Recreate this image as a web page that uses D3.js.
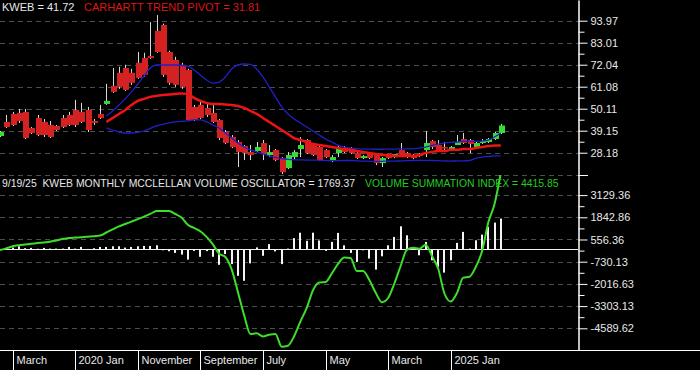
<!DOCTYPE html>
<html>
<head>
<meta charset="utf-8">
<script src="https://cdn.jsdelivr.net/npm/d3@7"></script>
<style>
  body { margin: 0; background: #000; }
  text { font-family: Arial, "Liberation Sans", sans-serif; }
</style>
</head>
<body>
<div id="viz"></div>
<script>
const colorUp = '#33dd33';
const colorDown = '#d42222';
const colorPivot = '#ee1414';
const colorBand = '#2020c8';
const colorSum = '#3ddd2a';
const colorGrid = '#4d4d4d';
const colorText = '#e8e8e8';

// monthly bars, Jan 2019 .. Sep 2025 (index 0..80)
const opens = [36.5,43.5,47.5,48,48.5,40.5,45.5,43.5,42,41.5,
  45.5,47,49.5,48.5,49.5,44,47.5,52.5,61.5,68,
  70.4,68,73,75.4,76.4,88.9,91.8,78.4,74.4,72,
  69.4,51,52,50.5,48,44.5,38.5,36,33.5,31.5,
  28.5,29,33,27,29.5,25.5,20.5,26,30,34.5,
  32,31,29.5,24,28,30.5,30.5,28,25.5,28,
  27,23,27,26,29.5,28,27,27.5,29.5,34,
  32,31,29.6,32,35,34.5,31,33,33.5,35,
  38]
const highs = [39,47,48.5,50,50,41,47,45,44,42,
  47,48.5,54.5,53,51,45,52,62.5,70.4,71,
  72,70,78.4,78,93.3,96.8,92.5,79,76,73,
  70,52,54.5,53,53,45,39.5,37,34.5,32,
  32,33.5,34.5,32,30,26,28.5,29.5,36,35,
  33,31.5,30,27,32,31.5,31,28.5,27,28.5,
  27.5,26,27.5,27.5,33,28.5,27.5,28,39,34.5,
  34.5,33.5,31.5,37,38,35,34,35,35.5,38.5,
  42.5]
const lows = [36,40.5,41.5,43,35,37.5,36.5,36,35.5,39,
  40.5,41.5,41,43,38.5,42,45,52,58,60,
  59,62,65,66,75,78,66,62,61,60,
  44,44,45,46,43,34.5,32.5,30.5,21,24.5,
  24.5,28.5,24.5,26,24,17.5,20,24.5,26,27.5,
  26.5,24,25.5,23.5,26,28,27.5,25,25,25,
  22,21,25,25.5,26,25.5,25,26,26,30,
  29,29.5,29,32,32.5,28,30.5,32.5,33,34.5,
  37.5]
const closes = [38.5,41,42,44,35.5,38,37,37,36,39.5,
  41,42,42,43.5,39.5,43,45.5,54,58.5,61,
  59.5,63,65.5,67,75.4,78.4,67,63,62,61,
  44.5,44.5,45.5,47,43.5,35.5,33,31,28.5,28,
  27,31,27.5,28.5,24.5,18.5,27,28.5,32,28,
  27,24.5,26,26,30.5,28.5,28,25.5,26.5,25.5,
  23,25.5,25.5,27.5,27,26,25.5,26.5,33,31,
  29.5,30.5,31,33.5,33,32.5,33,34,35,38,
  41.72]

// trend pivot and bands start at index 17
const bandStart = 17
const pivot = [43.5,45.5,47.5,49.5,52,54,55,56,56.5,57,
  57.2,57.5,57.7,57.5,55.5,54,53,52.5,52.5,52.2,
  52,51.5,50.5,49,47.5,45.5,43.5,41.5,39.5,37.5,
  35.5,34.5,33.5,32.5,32,31.5,31,30.5,30,29.6,
  29,28.6,28,27.6,27,27,26.6,26.6,26.6,26.6,
  27,28,28.6,29,29,29.6,29.6,30,30,30.5,
  31,31.5,31.8,31.81]
const upperBand = [46.5,49,52,55,58.5,62.4,66.4,70.4,71.9,71.9,
  71.9,71.9,71.7,71.4,69.4,66.9,64.4,62.9,63.4,65.9,
  69.9,71.9,72.4,72.2,69.9,66,61,56,51,47.5,
  45,43,41,39,37,35,33.5,32,31,30.5,
  30.2,30,30,29.9,29.9,30,30,30.1,30.1,30.2,
  30.5,31,31.8,32.5,33,33.3,33.5,33.8,33.8,33.8,
  34,34.5,36,38]
const lowerBand = [40.5,39.5,38.5,38,38,38.3,39,40.3,41.5,42.3,
  43,43.5,43.8,44,44.5,44.5,43.5,42,40.5,38,
  35.5,33,31,29.6,28.6,27.6,26.6,25.8,25.3,24.9,
  24.7,24.6,24.5,24.5,24.4,24.3,24.2,24.2,24.3,24.3,
  24.1,24,23.9,23.8,23.9,24,24,24.1,24.2,24.3,
  24.4,24.4,24.3,24.2,24.1,24,24.1,24.1,24.3,25.3,
  26,26.3,26.6,26.6]

// McClellan volume oscillator (bars) and summation index (line)
const oscillator = [null,70,87,162,50,70,20,70,30,30,
  30,125,30,125,10,50,125,125,162,162,
  87,125,162,183,183,222,-68,-126,-222,-319,
  -609,-106,-446,-116,-446,-910,-290,-869,-1547,-1837,
  -829,98,-388,290,-133,-869,30,637,950,480,
  950,500,-104,417,939,220,-220,-742,-70,-550,
  -1188,-417,220,707,1321,800,60,-359,417,-649,
  -1031,-1362,-649,359,997,30,510,840,1286,1536,
  1769.37]
const summation = [-52,40,162,226,267,307,348,388,429,504,
  580,637,666,690,719,748,782,962,1147,1315,
  1455,1594,1733,1883,2040,2202,2208,2208,2034,1825,
  1408,1228,1037,707,272,-267,-458,-1171,-2480,-3836,
  -4920,-4879,-5065,-4960,-4920,-5656,-5598,-5036,-4184,-3413,
  -2388,-1941,-1907,-1414,-863,-493,-516,-1269,-1269,-1791,
  -2515,-3077,-2834,-1993,-979,-41,81,23,249,-400,
  -1142,-2573,-3037,-2544,-1652,-1599,-1037,-127,1541,2613,
  4415.85]

const priceTicks = [93.97, 83.01, 72.04, 61.08, 50.11, 39.15, 28.18]
const oscTicks = [3129.36, 1842.86, 556.36, -730.13, -2016.63, -3303.13, -4589.62]
const xTickIndex = [2, 12, 22, 32, 42, 52, 62, 72]
const xTickLabels = ['March', '2020 Jan', 'November', 'September', 'July', 'May', 'March', '2025 Jan']
const dateLabel = '9/19/25'

function createViz(){

  const dimensions = {
    width: 700,
    height: 370,
    plotRight: 578,
    split: 175,
    bottom: 350,
  }

  const wrapper = d3.select('#viz')
    .append('svg')
    .attr('width', dimensions.width)
    .attr('height', dimensions.height)
    .style('background', '#000')
    .style('display', 'block')

  const defs = wrapper.append('defs')
  defs.append('clipPath').attr('id', 'clipUp')
    .append('rect').attr('x', 0).attr('y', 0)
    .attr('width', dimensions.plotRight).attr('height', dimensions.split)
  defs.append('clipPath').attr('id', 'clipLo')
    .append('rect').attr('x', 0).attr('y', dimensions.split)
    .attr('width', dimensions.plotRight).attr('height', dimensions.bottom - dimensions.split)

  // scales
  const xScale = d3.scaleLinear()
    .domain([0, 80])
    .range([0, 500.8])

  const yUp = d3.scaleLinear()
    .domain([17.07, 104.29])
    .range([dimensions.split, 0])

  const yLo = d3.scaleLinear()
    .domain([-5847, 4294])
    .range([dimensions.bottom, dimensions.split])

  // grid
  const grid = wrapper.append('g')
  const gridYs = priceTicks.map(d => yUp(d))
    .concat(oscTicks.map(d => yLo(d)))
    .concat([dimensions.split])
  grid.selectAll('line')
    .data(gridYs)
    .join('line')
    .attr('x1', 0)
    .attr('x2', dimensions.plotRight)
    .attr('y1', d => Math.round(d) + 0.5)
    .attr('y2', d => Math.round(d) + 0.5)
    .attr('stroke', colorGrid)
    .attr('stroke-dasharray', '5,4')

  // upper panel: candles
  const bars = d3.range(opens.length).map(i => ({
    i: i, o: opens[i], h: highs[i], l: lows[i], c: closes[i]
  }))

  const upper = wrapper.append('g').attr('clip-path', 'url(#clipUp)')

  upper.append('g')
    .selectAll('line')
    .data(bars)
    .join('line')
    .attr('x1', d => Math.round(xScale(d.i)) + 0.5)
    .attr('x2', d => Math.round(xScale(d.i)) + 0.5)
    .attr('y1', d => yUp(d.h))
    .attr('y2', d => yUp(d.l))
    .attr('stroke', '#d8d8d8')
    .attr('stroke-width', 1)

  upper.append('g')
    .selectAll('rect')
    .data(bars)
    .join('rect')
    .attr('x', d => Math.round(xScale(d.i)) - 2)
    .attr('width', 6)
    .attr('y', d => yUp(Math.max(d.o, d.c)))
    .attr('height', d => Math.max(1.5, yUp(Math.min(d.o, d.c)) - yUp(Math.max(d.o, d.c))))
    .attr('fill', d => d.c >= d.o ? colorUp : colorDown)

  const lineUp = d3.line()
    .x((d, k) => xScale(k + bandStart))
    .y(d => yUp(d))
    .curve(d3.curveMonotoneX)

  upper.append('path')
    .attr('d', lineUp(upperBand))
    .attr('fill', 'none')
    .attr('stroke', colorBand)
    .attr('stroke-width', 1.3)

  upper.append('path')
    .attr('d', lineUp(lowerBand))
    .attr('fill', 'none')
    .attr('stroke', colorBand)
    .attr('stroke-width', 1.3)

  upper.append('path')
    .attr('d', lineUp(pivot))
    .attr('fill', 'none')
    .attr('stroke', colorPivot)
    .attr('stroke-width', 2.5)

  // lower panel: oscillator bars + summation index
  const lower = wrapper.append('g').attr('clip-path', 'url(#clipLo)')

  lower.append('line')
    .attr('x1', 0)
    .attr('x2', dimensions.plotRight)
    .attr('y1', Math.round(yLo(0)) + 0.5)
    .attr('y2', Math.round(yLo(0)) + 0.5)
    .attr('stroke', '#f0f0f0')

  const oscData = oscillator.map((v, i) => ({i: i, v: v})).filter(d => d.v != null)

  lower.append('g')
    .selectAll('rect')
    .data(oscData)
    .join('rect')
    .attr('x', d => Math.round(xScale(d.i)) - 1)
    .attr('width', 2)
    .attr('y', d => Math.min(yLo(0), yLo(d.v)))
    .attr('height', d => Math.abs(yLo(0) - yLo(d.v)))
    .attr('fill', '#f4f4f4')

  const lineLo = d3.line()
    .x((d, i) => xScale(i))
    .y(d => yLo(d))
    .curve(d3.curveMonotoneX)

  lower.append('path')
    .attr('d', lineLo(summation))
    .attr('fill', 'none')
    .attr('stroke', colorSum)
    .attr('stroke-width', 2)

  // right axes
  const fmt = d => d.toFixed(2)

  wrapper.append('g')
    .attr('transform', `translate(${dimensions.plotRight + 0.5},0)`)
    .call(d3.axisRight(yUp).tickValues(priceTicks).tickSize(9).tickPadding(3).tickSizeOuter(0).tickFormat(fmt))

  wrapper.append('g')
    .attr('transform', `translate(${dimensions.plotRight + 0.5},0)`)
    .call(d3.axisRight(yLo).tickValues(oscTicks).tickSize(9).tickPadding(3).tickSizeOuter(0).tickFormat(fmt))

  // minor ticks halfway between labelled ones
  const mid = arr => d3.pairs(arr).map(p => (p[0] + p[1]) / 2)
  wrapper.append('g')
    .attr('transform', `translate(${dimensions.plotRight + 0.5},0)`)
    .call(d3.axisRight(yUp).tickValues(mid(priceTicks)).tickSize(6).tickSizeOuter(0).tickFormat(''))
  wrapper.append('g')
    .attr('transform', `translate(${dimensions.plotRight + 0.5},0)`)
    .call(d3.axisRight(yLo).tickValues(mid(oscTicks)).tickSize(6).tickSizeOuter(0).tickFormat(''))

  wrapper.append('line')
    .attr('x1', dimensions.plotRight)
    .attr('x2', dimensions.plotRight + 10)
    .attr('y1', dimensions.split + 0.5)
    .attr('y2', dimensions.split + 0.5)
    .attr('stroke', '#fff')

  wrapper.selectAll('.domain, .tick line')
    .attr('stroke', '#fff')
  wrapper.selectAll('.tick text')
    .attr('fill', colorText)
    .style('font-size', '11px')
    .style('font-family', 'Arial, "Liberation Sans", sans-serif')

  // bottom time axis
  const xAxis = wrapper.append('g')
  xAxis.append('line')
    .attr('x1', 0)
    .attr('x2', dimensions.width)
    .attr('y1', dimensions.bottom + 0.5)
    .attr('y2', dimensions.bottom + 0.5)
    .attr('stroke', '#fff')

  const xTicks = xTickIndex.map((d, k) => ({x: Math.round(xScale(d)) + 0.5, label: xTickLabels[k]}))
  xAxis.selectAll('line.sep')
    .data(xTicks)
    .join('line')
    .attr('class', 'sep')
    .attr('x1', d => d.x)
    .attr('x2', d => d.x)
    .attr('y1', dimensions.bottom)
    .attr('y2', dimensions.height)
    .attr('stroke', '#fff')
  xAxis.selectAll('text')
    .data(xTicks)
    .join('text')
    .attr('x', d => d.x + 3)
    .attr('y', 364)
    .attr('fill', colorText)
    .style('font-size', '11px')
    .text(d => d.label)

  // labels
  wrapper.append('text')
    .attr('x', 2).attr('y', 11)
    .attr('fill', colorText)
    .style('font-size', '11px')
    .text(`KWEB = ${closes[closes.length - 1]}`)

  wrapper.append('text')
    .attr('x', 84).attr('y', 11)
    .attr('fill', '#dd1515')
    .style('font-size', '11px')
    .text(`CARHARTT TREND PIVOT = ${pivot[pivot.length - 1]}`)

  wrapper.append('text')
    .attr('x', 2).attr('y', 187)
    .attr('fill', colorText)
    .style('font-size', '10.4px')
    .style('white-space', 'pre')
    .text(`${dateLabel}  KWEB MONTHLY MCCLELLAN VOLUME OSCILLATOR = ${oscillator[oscillator.length - 1]}`)

  wrapper.append('text')
    .attr('x', 365).attr('y', 187)
    .attr('fill', '#22cc22')
    .style('font-size', '10.4px')
    .text(`VOLUME SUMMATION INDEX = ${summation[summation.length - 1]}`)
}

createViz();
</script>
</body>
</html>
